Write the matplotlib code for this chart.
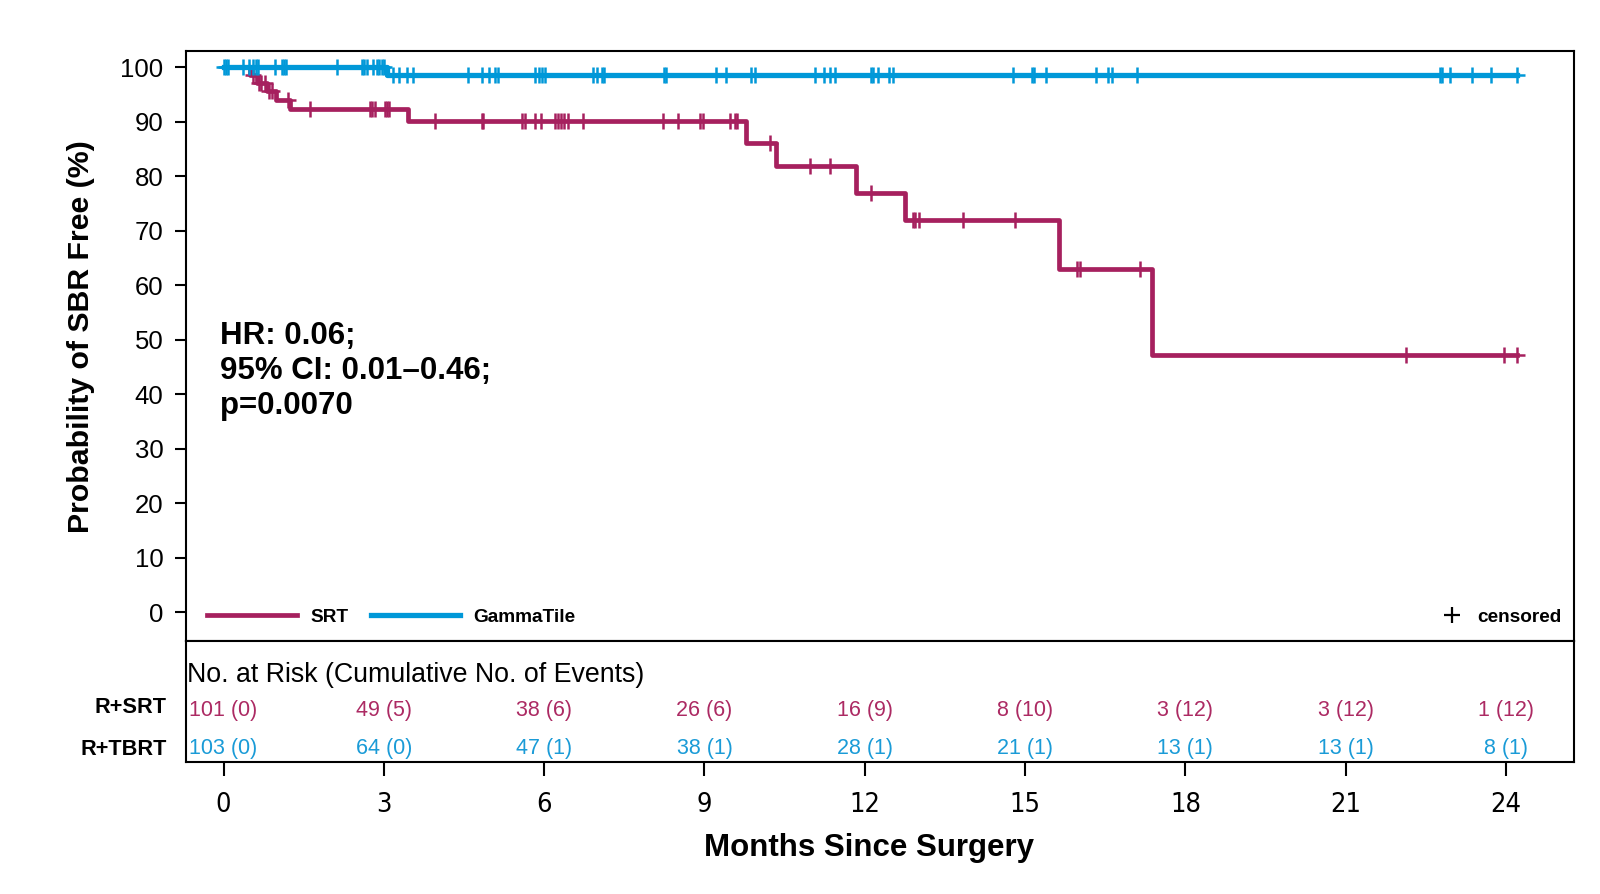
import matplotlib
matplotlib.use("Agg")
import matplotlib.pyplot as plt
from matplotlib import font_manager
from matplotlib.lines import Line2D
import numpy as np

# Kaplan-Meier steps (months, % SBR free)
srt_event_times = [0.50, 0.63, 0.82, 0.98, 1.25, 3.45, 9.77, 10.33, 11.83, 12.75, 15.64, 17.38]
srt_surv = [98.6, 97.1, 95.6, 94.0, 92.3, 90.2, 86.2, 81.8, 77.0, 71.9, 62.9, 47.2]
srt_end = 24.20
srt_censor = [0.55, 0.66, 0.70, 0.78, 0.86, 0.90, 1.20, 1.62, 2.74, 2.78, 2.83, 3.02,
              3.06, 3.10, 3.96, 4.83, 4.86, 5.58, 5.64, 5.83, 5.95, 6.20, 6.26, 6.32,
              6.38, 6.45, 6.73, 8.23, 8.50, 8.92, 8.98, 9.48, 9.57, 9.61, 10.23, 10.97,
              11.35, 12.11, 12.91, 12.94, 13.02, 13.83, 14.81, 15.98, 16.03, 17.15,
              22.12, 23.96, 24.20]

gt_event_times = [3.05]
gt_surv = [98.5]
gt_end = 24.20
gt_censor = [0.0, 0.05, 0.09, 0.37, 0.48, 0.55, 0.60, 0.65, 0.96, 1.09, 1.13, 1.17,
             2.12, 2.59, 2.63, 2.68, 2.80, 2.87, 2.91, 2.96, 3.01, 3.18, 3.29, 3.43,
             3.55, 4.58, 4.83, 4.96, 5.08, 5.14, 5.83, 5.90, 5.96, 6.02, 6.92, 6.98,
             7.08, 7.12, 8.24, 8.28, 9.22, 9.40, 9.87, 9.95, 11.07, 11.24, 11.35, 11.45,
             12.12, 12.16, 12.25, 12.45, 12.53, 14.78, 15.13, 15.17, 15.40, 16.33, 16.56,
             16.62, 17.09, 22.76, 22.80, 22.96, 23.36, 23.72, 24.20]

# numbers at risk table
risk_times = [0, 3, 6, 9, 12, 15, 18, 21, 24]
srt_risk = [101, 49, 38, 26, 16, 8, 3, 3, 1]
srt_cum_events = [0, 5, 6, 6, 9, 10, 12, 12, 12]
gt_risk = [103, 64, 47, 38, 28, 21, 13, 13, 8]
gt_cum_events = [0, 0, 1, 1, 1, 1, 1, 1, 1]

srt_color = "#A6205E"
gt_color = "#0098D8"
srt_text = "#AC2A63"
gt_text = "#1A9BD7"

plt.rcParams["font.family"] = ["Liberation Sans", "DejaVu Sans"]

# look for a narrow font for the x tick labels
narrow_fp = None
for f in font_manager.fontManager.ttflist:
    fn = f.fname.lower()
    if ("narrow" in fn or "condensed" in fn) and "bold" not in fn and "italic" not in fn \
            and "oblique" not in fn and "light" not in fn:
        if narrow_fp is None or "liberation" in fn:
            narrow_fp = font_manager.FontProperties(fname=f.fname, size=19.5)


def km_steps(times, surv, end):
    t = np.array([0.0] + list(times) + [end])
    s = np.array([100.0] + list(surv) + [surv[-1]])
    return t, s


def level_at(times, surv, x):
    idx = np.searchsorted(np.array(times), x, side="right")
    vals = np.array([100.0] + list(surv))
    return vals[idx]


fig = plt.figure(figsize=(16, 8.94), dpi=100)
ax = fig.add_axes([0.116, 0.283, 0.868, 0.660])
tab = fig.add_axes([0.116, 0.148, 0.868, 0.135], sharex=ax)

t, s = km_steps(srt_event_times, srt_surv, srt_end)
ax.step(t, s, where="post", color=srt_color, lw=3.4, zorder=3)
ax.plot(srt_censor, level_at(srt_event_times, srt_surv, srt_censor), ls="none",
        marker="+", ms=11, mew=1.8, color=srt_color, zorder=4)

t, s = km_steps(gt_event_times, gt_surv, gt_end)
ax.step(t, s, where="post", color=gt_color, lw=3.8, zorder=5)
ax.plot(gt_censor, level_at(gt_event_times, gt_surv, gt_censor), ls="none",
        marker="+", ms=11, mew=1.8, color=gt_color, zorder=6)

ax.set_xlim(-0.71, 25.28)
ax.set_ylim(-5.27, 103)
ax.set_yticks(range(0, 101, 10))
ax.tick_params(axis="y", length=8, width=1.5, labelsize=18.5, pad=8)
ax.tick_params(axis="x", bottom=False, labelbottom=False)
for sp in ax.spines.values():
    sp.set_linewidth(1.5)

ax.text(-0.06, 44.3, "HR: 0.06;\n95% CI: 0.01\u20130.46;\np=0.0070", fontsize=22.5,
        fontweight="bold", va="center", ha="left", linespacing=1.22)

handles = [Line2D([], [], color=srt_color, lw=3.4), Line2D([], [], color=gt_color, lw=3.8)]
leg = ax.legend(handles, ["SRT", "GammaTile"], loc="lower left", ncol=2, frameon=False,
                handlelength=4.7, handletextpad=0.7, columnspacing=1.2,
                prop={"weight": "bold", "size": 13.7}, bbox_to_anchor=(0.006, 0.003),
                borderaxespad=0.3)
ax.add_artist(leg)
cens = Line2D([], [], ls="none", marker="+", ms=11, mew=1.6, color="black")
ax.legend([cens], ["censored"], loc="lower right", frameon=False, handlelength=1.0,
          handletextpad=0.8, prop={"weight": "bold", "size": 13.7},
          bbox_to_anchor=(1.0, 0.003), borderaxespad=0.3)

# risk table
tab.set_ylim(0, 1)
tab.set_yticks([])
tab.set_xticks(risk_times)
tab.tick_params(axis="x", length=10, width=1.5, labelsize=19.5, pad=12)
if narrow_fp is not None:
    for lab in tab.get_xticklabels():
        lab.set_fontproperties(narrow_fp)
for sp in tab.spines.values():
    sp.set_linewidth(1.5)

tab.text(-0.68, 0.72, "No. at Risk (Cumulative No. of Events)", fontsize=19.3,
         va="center", ha="left")
for x, n, e in zip(risk_times, srt_risk, srt_cum_events):
    tab.text(x, 0.42, f"{n} ({e})", color=srt_text, fontsize=15.5, ha="center", va="center")
for x, n, e in zip(risk_times, gt_risk, gt_cum_events):
    tab.text(x, 0.11, f"{n} ({e})", color=gt_text, fontsize=15.5, ha="center", va="center")

fig.text(0.104, 0.209, "R+SRT", fontsize=15.7, fontweight="bold", ha="right", va="center")
fig.text(0.104, 0.162, "R+TBRT", fontsize=15.7, fontweight="bold", ha="right", va="center")

fig.text(0.0505, 0.623, "Probability of SBR Free (%)", rotation=90, fontsize=21.8,
         fontweight="bold", ha="center", va="center")
fig.text(0.543, 0.051, "Months Since Surgery", fontsize=22.5, fontweight="bold",
         ha="center", va="center")

fig.savefig("out.png", dpi=100)
